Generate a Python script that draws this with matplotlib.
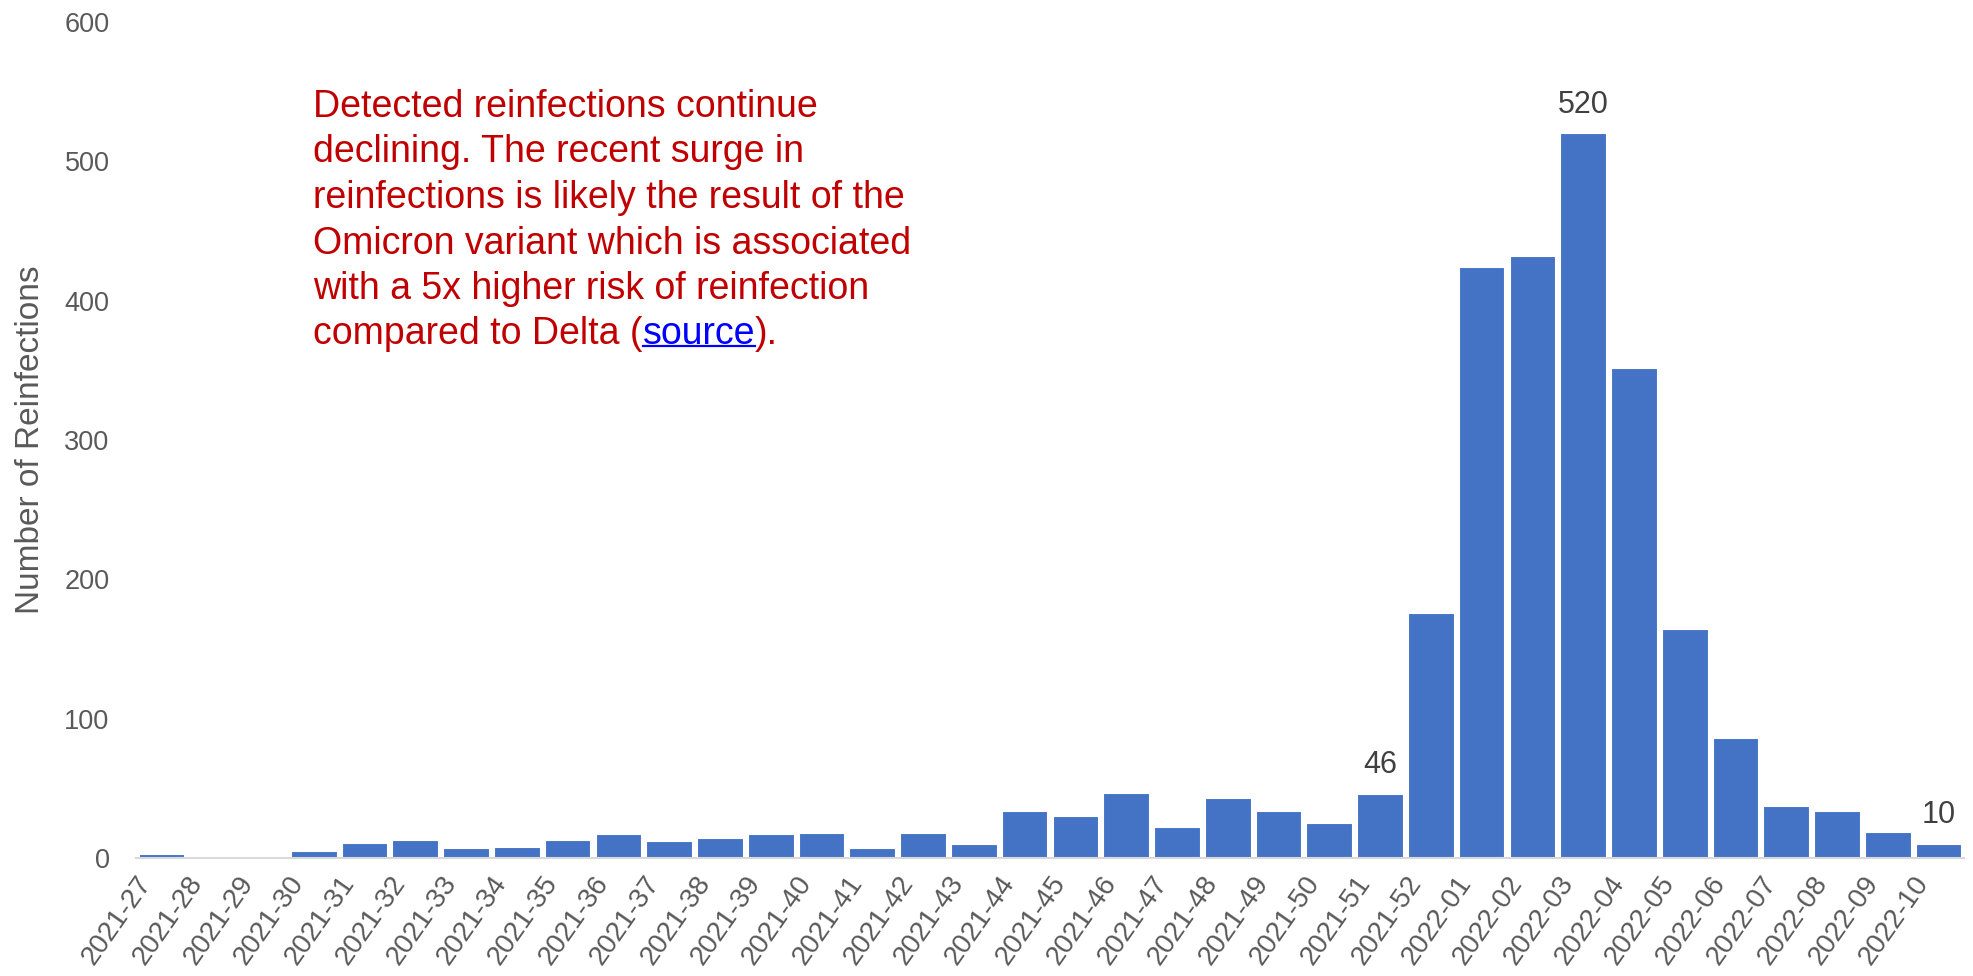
import matplotlib.pyplot as plt
from matplotlib.transforms import ScaledTranslation

plt.rcParams['font.family'] = ['Liberation Sans', 'DejaVu Sans']

# semanas epidemiologicas y reinfecciones detectadas
weeks = ['2021-27', '2021-28', '2021-29', '2021-30', '2021-31', '2021-32', '2021-33',
         '2021-34', '2021-35', '2021-36', '2021-37', '2021-38', '2021-39', '2021-40',
         '2021-41', '2021-42', '2021-43', '2021-44', '2021-45', '2021-46', '2021-47',
         '2021-48', '2021-49', '2021-50', '2021-51', '2021-52', '2022-01', '2022-02',
         '2022-03', '2022-04', '2022-05', '2022-06', '2022-07', '2022-08', '2022-09',
         '2022-10']
reinfections = [3, 1, 1, 5, 11, 13, 7, 8, 13, 17, 12, 14, 17, 18, 7, 18, 10, 34, 30,
                47, 22, 43, 34, 25, 46, 176, 424, 432, 520, 352, 164, 86, 37, 34, 19, 10]
labelled = ['2021-51', '2022-03', '2022-10']

bar_color = '#4472C4'
tick_color = '#595959'

fig = plt.figure(figsize=(19.73, 9.76), dpi=100)
ax = fig.add_axes([136 / 1973, 1 - 858 / 976, (1964 - 136) / 1973, (858 - 22) / 976])

x = range(len(weeks))
bars = ax.bar(x, reinfections, width=0.9, color=bar_color, edgecolor='white', linewidth=0.8)

ax.set_xlim(-0.5, len(weeks) - 0.5)
ax.set_ylim(0, 600)
ax.set_yticks(range(0, 601, 100))
ax.set_xticks(list(x))
ax.set_xticklabels(weeks, rotation=55, ha='right', va='center', rotation_mode='anchor')
ax.tick_params(axis='y', length=0, pad=19, labelsize=19.5, labelcolor=tick_color)
ax.tick_params(axis='x', length=0, pad=15, labelsize=20, labelcolor=tick_color)
# desplazar un poco las etiquetas del eje x hacia la izquierda
shift = ScaledTranslation(-0.15, 0, fig.dpi_scale_trans)
for lab in ax.get_xticklabels():
    lab.set_transform(lab.get_transform() + shift)

for side in ['top', 'right', 'left']:
    ax.spines[side].set_visible(False)
ax.spines['bottom'].set_color('#D9D9D9')
ax.spines['bottom'].set_linewidth(1.5)

ax.set_ylabel('Number of Reinfections', fontsize=24, color=tick_color, labelpad=13)

# etiquetas solo en algunas barras
labels = [str(v) if w in labelled else '' for w, v in zip(weeks, reinfections)]
ax.bar_label(bars, labels=labels, padding=10, fontsize=22, color='#404040')

# texto de anotacion en rojo
red = '#C00000'
fs = 27
lines = ['Detected reinfections continue',
         'declining. The recent surge in',
         'reinfections is likely the result of the',
         'Omicron variant which is associated',
         'with a 5x higher risk of reinfection']
y0 = 1 - 89 / 976
step = 45.5 / 976
for i, line in enumerate(lines):
    fig.text(313 / 1973, y0 - i * step, line, fontsize=fs, color=red, va='top')

last = fig.text(313 / 1973, y0 - 5 * step, 'compared to Delta (', fontsize=fs, color=red, va='top')
src = ax.annotate('source', xy=(1, 0), xycoords=last, va='bottom', ha='left',
                  fontsize=fs, color='#0000FF')
end = ax.annotate(').', xy=(1, 0), xycoords=src, va='bottom', ha='left',
                  fontsize=fs, color=red)

fig.canvas.draw()
bb = src.get_window_extent().transformed(fig.transFigure.inverted())
uy = bb.y0 + (bb.y1 - bb.y0) * 0.17
fig.add_artist(plt.Line2D([bb.x0, bb.x1], [uy, uy], transform=fig.transFigure,
                          color='#0000FF', linewidth=1.6))

fig.savefig('out.png', dpi=100)
